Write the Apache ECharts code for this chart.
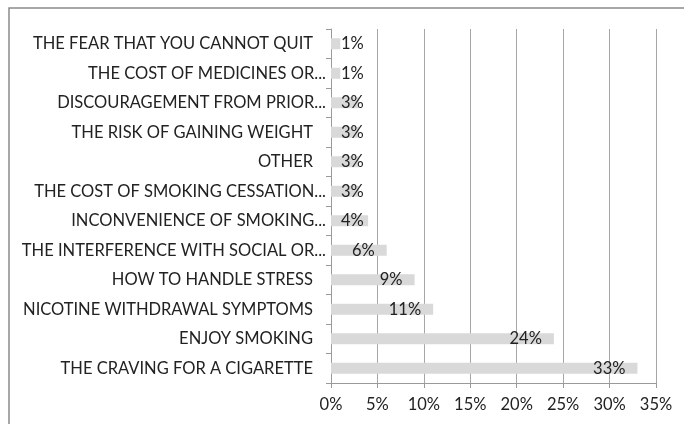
<!DOCTYPE html>
<html><head><meta charset="utf-8">
<script src="https://cdn.jsdelivr.net/npm/echarts@6/dist/echarts.min.js"></script>
<style>html,body{margin:0;padding:0;background:#fff}#c{width:684px;height:424px}</style>
</head><body><div id="c"></div>
<script>
// bottom to top
const categories = [
  "THE CRAVING FOR A CIGARETTE",
  "ENJOY SMOKING",
  "NICOTINE WITHDRAWAL SYMPTOMS",
  "HOW TO HANDLE STRESS",
  "THE INTERFERENCE WITH SOCIAL OR...",
  "INCONVENIENCE OF SMOKING...",
  "THE COST OF SMOKING CESSATION...",
  "OTHER",
  "THE RISK OF GAINING WEIGHT",
  "DISCOURAGEMENT FROM PRIOR...",
  "THE COST OF MEDICINES OR...",
  "THE FEAR THAT YOU CANNOT QUIT"
];
const values = [33, 24, 11, 9, 6, 4, 3, 3, 3, 3, 1, 1];
const xTicks = [0, 5, 10, 15, 20, 25, 30, 35];

const FONT = "Lato";
const TXT = '#222';
const chart = echarts.init(document.getElementById('c'), null, {renderer: 'canvas'});
const data = values.map(v => ({
  value: v,
  label: v < 5
    ? {position: 'insideLeft', distance: 10}
    : {position: 'insideRight', distance: 12}
}));
chart.setOption({
  animation: false,
  graphic: [{
    type: 'rect', shape: {x: 9, y: 8, width: 700, height: 440},
    style: {fill: 'none', stroke: '#8a8a8a', lineWidth: 1.5}
  }],
  grid: {left: 331, right: 28, top: 29, bottom: 41, containLabel: false},
  xAxis: {
    type: 'value', min: xTicks[0], max: xTicks[xTicks.length - 1], interval: 5,
    axisLine: {show: true, lineStyle: {color: '#9a9a9a', width: 1}},
    axisTick: {show: true, length: 5, lineStyle: {color: '#9a9a9a'}},
    splitLine: {show: true, lineStyle: {color: '#a6a6a6', width: 1}},
    axisLabel: {formatter: '{value}%', fontFamily: FONT, fontSize: 16.5, color: TXT, margin: 13}
  },
  yAxis: {
    type: 'category', data: categories,
    axisLine: {show: true, lineStyle: {color: '#9a9a9a', width: 1}},
    axisTick: {show: true, length: 5, lineStyle: {color: '#9a9a9a'}},
    axisLabel: {
      fontFamily: FONT, fontSize: 16.5, color: TXT, margin: 5,
      formatter: s => s.endsWith('...') ? '{t|' + s + '}' : '{p|' + s + '}',
      rich: {
        t: {fontFamily: FONT, fontSize: 16.5, color: TXT},
        p: {fontFamily: FONT, fontSize: 16.5, color: TXT, padding: [0, 13, 0, 0]}
      }
    }
  },
  series: [{
    type: 'bar', data: data, barWidth: 11,
    itemStyle: {color: '#d9d9d9'},
    label: {show: true, formatter: '{c}%', fontFamily: FONT, fontSize: 16.5, color: TXT}
  }]
});
</script></body></html>
